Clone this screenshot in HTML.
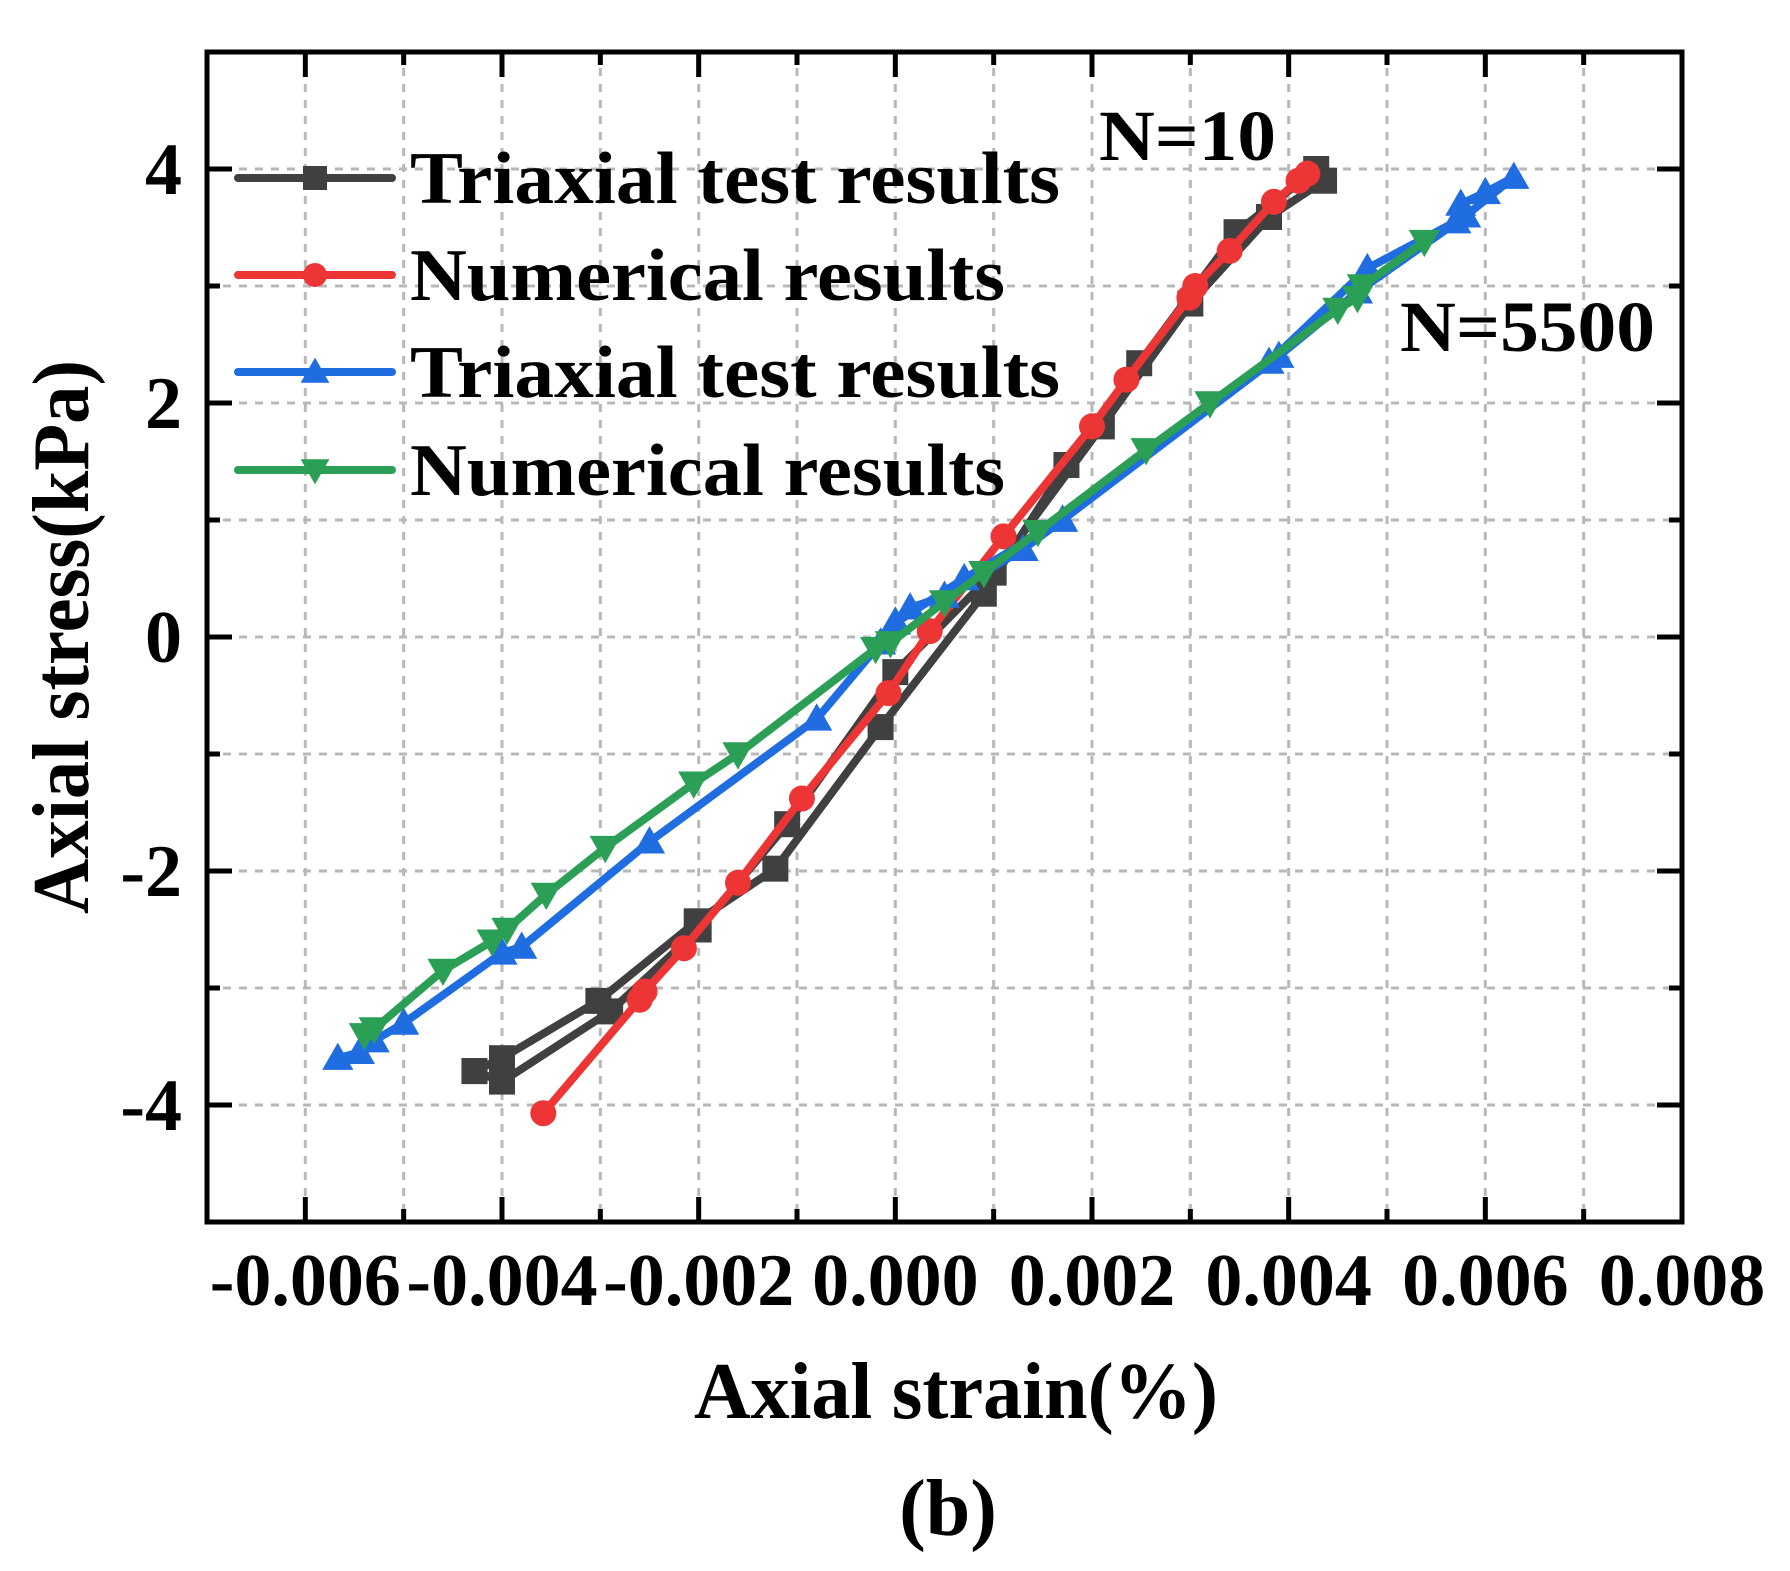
<!DOCTYPE html>
<html><head><meta charset="utf-8"><style>
html,body{margin:0;padding:0;background:#fff;}
svg{display:block;font-family:"Liberation Serif","Times New Roman",serif;font-weight:bold;}
</style></head><body>
<svg id="chart" width="1790" height="1571" viewBox="0 0 1790 1571" xmlns="http://www.w3.org/2000/svg"></svg>
<script>
// data: x in units of 0.001 (%), y in kPa
const xTicks = [-0.006,-0.004,-0.002,0.000,0.002,0.004,0.006,0.008];
const yTicks = [-4,-2,0,2,4];
const blackX = [-4.28,-4.0,-3.02,-2.02,-1.22,-0.15,0.9,1.74,2.48,3.47,4.28,4.36,3.8,3.0,2.1,1.0,0.0,-1.1,-2.0,-2.9,-4.0,-4.28];
const blackY = [-3.71,-3.6,-3.11,-2.43,-1.98,-0.77,0.37,1.47,2.34,3.46,4.0,3.9,3.59,2.85,1.8,0.55,-0.3,-1.6,-2.5,-3.2,-3.8,-3.71];
const redX = [-3.58,-2.6,-2.55,-2.15,-1.6,-0.95,-0.07,0.35,1.1,2.0,2.35,2.99,3.05,3.4,3.85,4.1,4.19];
const redY = [-4.07,-3.1,-3.03,-2.66,-2.1,-1.38,-0.48,0.05,0.86,1.8,2.2,2.9,3.0,3.3,3.72,3.9,3.96];
const blueX = [-5.67,-5.45,-5.3,-5.0,-4.0,-3.8,-2.5,-0.8,-0.15,0.0,0.15,0.5,1.3,1.7,3.8,4.8,5.7,5.75,6.0,6.29,5.8,4.7,3.9,1.7,0.7,0.0];
const blueY = [-3.6,-3.55,-3.45,-3.3,-2.7,-2.65,-1.75,-0.7,-0.05,0.13,0.25,0.35,0.75,1.0,2.35,3.15,3.55,3.7,3.8,3.93,3.6,2.95,2.4,1.0,0.5,0.12];
const greenX = [-5.4,-5.3,-4.6,-4.1,-3.95,-3.55,-2.95,-2.05,-1.6,-0.2,-0.05,0.5,0.9,1.45,2.55,3.2,4.5,4.7,4.75,5.38];
const greenY = [-3.4,-3.35,-2.85,-2.6,-2.5,-2.2,-1.8,-1.25,-1.0,-0.1,-0.05,0.3,0.55,0.9,1.6,2.0,2.8,2.9,3.0,3.38];

const L=207,R=1682,T=52,B=1222;
const xMin=-7,xMax=8,yMin=-5,yMax=5;
function sx(v){return L+(v-xMin)/(xMax-xMin)*(R-L);}
function sy(v){return B-(v-yMin)/(yMax-yMin)*(B-T);}
const svg=document.getElementById('chart');
const NS='http://www.w3.org/2000/svg';
function mk(tag,attrs,parent){const e=document.createElementNS(NS,tag);for(const k in attrs)e.setAttribute(k,attrs[k]);(parent||svg).appendChild(e);return e;}

// grid
const grid=mk('g',{});


for(let i=xMin+1;i<xMax;i++){mk('line',{x1:sx(i),x2:sx(i),y1:T,y2:B,stroke:'#b8b8b8','stroke-width':3,'stroke-dasharray':'8 8'},grid);}
for(let j=yMin+1;j<yMax;j++){mk('line',{x1:L,x2:R,y1:sy(j),y2:sy(j),stroke:'#b8b8b8','stroke-width':3,'stroke-dasharray':'8 8'},grid);}

// series
function marker(g,type,x,y,color,s){
  let m;
  if(type==='sq') m=mk('rect',{x:x-s,y:y-s,width:2*s,height:2*s,fill:color},g);
  else if(type==='ci') m=mk('circle',{cx:x,cy:y,r:s,fill:color},g);
  else if(type==='up') m=mk('polygon',{points:`${x},${y-s*1.2} ${x-s*1.2},${y+s*0.9} ${x+s*1.2},${y+s*0.9}`,fill:color},g);
  else m=mk('polygon',{points:`${x},${y+s*1.2} ${x-s*1.2},${y-s*0.9} ${x+s*1.2},${y-s*0.9}`,fill:color},g);
  return m;
}
function series(name,xs,ys,color,type){
  const g=mk('g',{});
  
  
  const d=xs.map((v,i)=>(i?'L':'M')+sx(v).toFixed(1)+','+sy(ys[i]).toFixed(1)).join(' ');
  mk('path',{d:d,fill:'none',stroke:color,'stroke-width':8,'stroke-linejoin':'round'},g);
  xs.forEach((v,i)=>{const m=marker(g,type,sx(v),sy(ys[i]),color,13);
    
    });
}
series('n10-test-series',blackX,blackY,'#404040','sq');
series('n10-numerical-series',redX,redY,'#ee3535','ci');
series('n5500-test-series',blueX,blueY,'#1f6de0','up');
series('n5500-numerical-series',greenX,greenY,'#2a9f55','dn');

// axes frame and ticks
const ax=mk('g',{});


mk('rect',{x:L,y:T,width:R-L,height:B-T,fill:'none',stroke:'#000','stroke-width':5},ax);
for(let i=xMin+1;i<xMax;i++){const len=(i%2===0)?25:13;
  mk('line',{x1:sx(i),x2:sx(i),y1:B,y2:B-len,stroke:'#000','stroke-width':5},ax);
  mk('line',{x1:sx(i),x2:sx(i),y1:T,y2:T+len,stroke:'#000','stroke-width':5},ax);}
for(let j=yMin+1;j<yMax;j++){const len=(j%2===0)?25:13;
  mk('line',{x1:L,x2:L+len,y1:sy(j),y2:sy(j),stroke:'#000','stroke-width':5},ax);
  mk('line',{x1:R,x2:R-len,y1:sy(j),y2:sy(j),stroke:'#000','stroke-width':5},ax);}

// tick labels
xTicks.forEach(v=>{const t=mk('text',{x:sx(v*1000),y:1305,'text-anchor':'middle','font-size':74,fill:'#000'});t.textContent=v.toFixed(3);
  
  });
yTicks.forEach(v=>{const t=mk('text',{x:182,y:sy(v)+25,'text-anchor':'end','font-size':74,fill:'#000'});t.textContent=String(v);
  
  });

// legend
const lg=mk('g',{});


const legLabels=['Triaxial test results','Numerical results','Triaxial test results','Numerical results'];
const legColors=['#404040','#ee3535','#1f6de0','#2a9f55'];
const legTypes=['sq','ci','up','dn'];
const legWidths=[650,595,650,595];
[178,275,372,470].forEach((y,i)=>{
  const e=mk('g',{},lg);
  
  
  mk('line',{x1:238,x2:392,y1:y,y2:y,stroke:legColors[i],'stroke-width':8,'stroke-linecap':'round'},e);
  marker(e,legTypes[i],315,y,legColors[i],12);
  const t=mk('text',{x:410,y:y+25,'font-size':74,fill:'#000',textLength:legWidths[i],lengthAdjust:'spacingAndGlyphs'},e);
  t.textContent=legLabels[i];
});

function label(txt,attrs,name){const t=mk('text',attrs);t.textContent=txt;return t;}
label('N=10',{x:1099,y:160,'font-size':72,fill:'#000',textLength:177,lengthAdjust:'spacingAndGlyphs'},'annotation-n10');
label('N=5500',{x:1400,y:351,'font-size':72,fill:'#000',textLength:255,lengthAdjust:'spacingAndGlyphs'},'annotation-n5500');
label('Axial strain(%)',{x:956,y:1418,'text-anchor':'middle','font-size':80,fill:'#000',textLength:524,lengthAdjust:'spacingAndGlyphs'},'x-axis-title');
label('Axial stress(kPa)',{x:0,y:0,'text-anchor':'middle','font-size':80,fill:'#000',textLength:554,lengthAdjust:'spacingAndGlyphs',transform:'translate(88,637) rotate(-90)'},'y-axis-title');
label('(b)',{x:948,y:1535,'text-anchor':'middle','font-size':80,fill:'#000'},'caption');
</script>
</body></html>
